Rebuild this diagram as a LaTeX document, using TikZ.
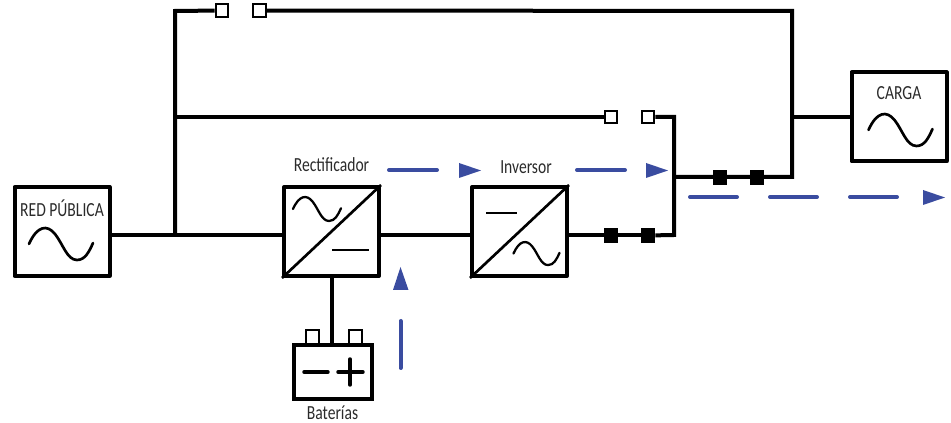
\documentclass[tikz,border=0pt]{standalone}
\usepackage{fontspec}
\setmainfont{Carlito}
\definecolor{flow}{HTML}{3A4CA0}
\definecolor{txt}{HTML}{2B2B2B}
\tikzset{
 x=0.75pt,y=-0.75pt,
 unit/.style={draw=black,line width=3pt,minimum width=71.25pt,minimum height=66.75pt,inner sep=0,line join=round},
 wire/.style={draw=black,line width=3pt},
 thin wave/.style={draw=black,line width=#1,line cap=round},
 sw/.style={draw=black,line width=1.5pt,fill=white,minimum size=9.5pt,inner sep=0},
 swon/.style={draw=black,line width=1.5pt,fill=black,minimum size=9.5pt,inner sep=0},
 lbl/.style={text=txt,font=\fontsize{15}{16}\selectfont,xscale=.78,transform shape,inner sep=0},
 fl/.style={draw=flow,line width=3pt,line cap=round},
 tri/.style={fill=flow,draw=none},
 term/.style={draw=black,line width=1.5pt,fill=white,minimum width=9.8pt,minimum height=12pt,inner sep=0},
}
\newcommand{\wave}[4]{% x, y, scale, width
 \draw[thin wave=#4,shift={(#1,#2)},x=#3*0.75pt,y=-#3*0.75pt]
  (-32,-2) .. controls (-24,-20) and (-14,-22) .. (-6,-12) .. controls (2,-2) and (6,14) .. (16,14) .. controls (24,14) and (28,6) .. (32,-3);}
\begin{document}
\begin{tikzpicture}
\useasboundingbox (0,0) rectangle (951,423);
% nodes
\node[unit] (red) at (62,231.5) {};
\node[unit] (rec) at (331.5,231.5) {};
\node[unit] (inv) at (519.5,231.5) {};
\node[unit] (car) at (899,117) {};
\coordinate (jtop) at (175,11);
\coordinate (jmid) at (175,117);
\coordinate (jlow) at (175,235);
\coordinate (rtop) at (792,11);
\coordinate (rmid) at (792,117);
\coordinate (rlow) at (792,177);
\coordinate (ctop) at (674,117);
\coordinate (cmid) at (674,177);
\coordinate (cbot) at (674,235);
\node[sw] (s1) at (222,10.5) {};
\node[sw] (s2) at (259.5,10.5) {};
\node[sw] (s3) at (611,117) {};
\node[sw] (s4) at (648,117) {};
\node[swon] (s5) at (611,235.5) {};
\node[swon] (s6) at (648,235.5) {};
\node[swon] (s7) at (720,177.5) {};
\node[swon] (s8) at (757,177.5) {};
% battery
\node[term] (t1) at (312.5,338.5) {};
\node[term] (t2) at (355.5,338.5) {};
\node[draw=black,line width=2.4pt,fill=white,minimum width=58.5pt,minimum height=40.5pt,inner sep=0] (bat) at (333,372) {};
\draw[line width=2.6pt,black,line cap=round] (304,372) -- (328,372) (338,372) -- (363,372) (350,359) -- (350,385);
% wires
\draw[wire] (red.east |- jlow) -- (rec.west |- jlow);
\draw[wire] (jlow) -- (jtop) -- (s1);
\draw[wire] (s2) -- (rtop) -- (rlow) -- (cmid);
\draw[wire] (jmid) -- (s3);
\draw[wire] (s4) -- (ctop) -- (cbot) -- (s6);
\draw[wire] (s6) -- (s5) -- (inv.east |- s5);
\draw[wire] (rec.east |- s5) -- (inv.west |- s5);
\draw[wire] (rmid) -- (car.west |- rmid);
\draw[wire] (rec.south) -- (rec.south |- bat.north);
\node[sw] at (s1) {};\node[sw] at (s2) {};\node[sw] at (s3) {};\node[sw] at (s4) {};
\node[swon] at (s5) {};\node[swon] at (s6) {};\node[swon] at (s7) {};\node[swon] at (s8) {};
% symbols
\draw[line width=2pt] (rec.south west) -- (rec.north east);
\draw[line width=2pt] (inv.south west) -- (inv.north east);
\draw[line width=2pt] (332,250) -- (369,250);
\draw[line width=2pt] (486,213) -- (517,213);
\wave{61}{246}{1}{2pt}
\wave{317}{210.5}{.75}{1.7pt}
\wave{536.5}{255}{.72}{1.7pt}
\wave{900.5}{132}{1}{2pt}
% labels
\node[lbl] (t_red) at (62,208) {RED PÚBLICA};
\node[lbl] (t_rec) at (331.5,165) {Rectificador};
\node[lbl] (t_inv) at (526,167) {Inversor};
\node[lbl] (t_car) at (899,93) {CARGA};
\node[lbl] (t_bat) at (332.5,413) {Baterías};
% flow arrows
\draw[fl] (389,170) -- (437,170);
\fill[tri] (459,163) -- (481,170.5) -- (459,178) -- cycle;
\draw[fl] (577,170) -- (625,170);
\fill[tri] (646,163) -- (668,170.5) -- (646,178) -- cycle;
\draw[fl] (690,197) -- (737,197);
\draw[fl] (770,197) -- (817,197);
\draw[fl] (850,197) -- (897,197);
\fill[tri] (923,190) -- (945,197.5) -- (923,205) -- cycle;
\draw[fl] (400.5,321) -- (400.5,368);
\fill[tri] (393,290) -- (400.5,267) -- (408.5,290) -- cycle;
\end{tikzpicture}
\end{document}
